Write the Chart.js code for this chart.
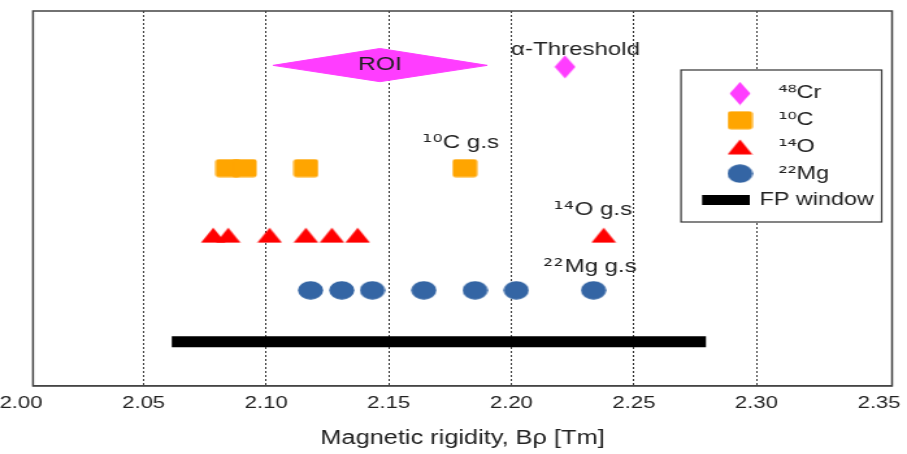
<!DOCTYPE html>
<html>
<head>
<meta charset="utf-8">
<script src="https://cdn.jsdelivr.net/npm/chart.js@4/dist/chart.umd.min.js"></script>
<style>
  @font-face { font-family: 'SupDigits'; src: local('DejaVu Sans'), local('DejaVuSans');
               unicode-range: U+00B2-00B3, U+00B9, U+2070-2079; }
  html, body { margin: 0; padding: 0; background: #fff; overflow: hidden; }
  #wrap { position: absolute; left: 0; top: 0; width: 698px; height: 454px;
          transform: scaleX(1.29943); transform-origin: 0 0; }
</style>
</head>
<body>
<div id="wrap"><canvas id="c"></canvas></div>
<script>
// ---------------- data ----------------
const xTickValues = [2.00, 2.05, 2.10, 2.15, 2.20, 2.25, 2.30, 2.35];
const seriesNames = ['⁴⁸Cr', '¹⁰C', '¹⁴O', '²²Mg', 'FP window'];
const cr48X = [2.2219];
const c10X = [2.0844, 2.0911, 2.1162, 2.1810];
const o14X = [2.0784, 2.0845, 2.1014, 2.1162, 2.1268, 2.1373, 2.2377];
const mg22X = [2.1181, 2.1308, 2.1433, 2.1643, 2.1852, 2.2020, 2.2335];
const fpWindowX = [2.0615, 2.2794];
const seriesRowY = [8.51, 5.81, 4.02, 2.55, 1.18];   // rows: Cr, C, O, Mg, FP window
const roiX = [2.1028, 2.1464, 2.1902, 2.1464, 2.1028];
const roiY = [8.55, 9.0, 8.55, 8.115, 8.55];
const noteTexts = ['ROI', 'α-Threshold', '¹⁰C g.s', '¹⁴O g.s', '²²Mg g.s'];
const noteX = [2.1464, 2.2262, 2.1793, 2.2333, 2.2322];
const noteY = [8.566, 8.96, 6.49, 4.69, 3.18];

// ---------------- styles ----------------
const FONT = "SupDigits, 'Liberation Sans', Arial, sans-serif";
const MAGENTA = '#ff3dff', ORANGE = '#ffa500', RED = '#ff0000', BLUE = '#3465a4';
Chart.defaults.font.family = FONT;
Chart.defaults.color = '#222';
const X_MIN = 2.00489, X_MAX = 2.35531;

function shape(w, h, draw) {
  const c = document.createElement('canvas');
  c.width = w; c.height = h;
  draw(c.getContext('2d'), w, h);
  return c;
}
const diamondImg = shape(17, 24, (g, w, h) => {
  g.fillStyle = MAGENTA; g.beginPath();
  g.moveTo(w / 2, 0.5); g.lineTo(w - 0.5, h / 2); g.lineTo(w / 2, h - 0.5); g.lineTo(0.5, h / 2);
  g.closePath(); g.fill();
});
const squareImg = shape(20, 19, (g, w, h) => {
  g.fillStyle = ORANGE; g.beginPath(); g.roundRect(0.5, 0.5, w - 1, h - 1, 2.5); g.fill();
});
const triImg = shape(20, 16, (g, w, h) => {
  g.fillStyle = RED; g.beginPath();
  g.moveTo(w / 2, 0.5); g.lineTo(w - 0.5, h - 0.5); g.lineTo(0.5, h - 0.5);
  g.closePath(); g.fill();
});
const circImg = shape(20, 19, (g, w, h) => {
  g.fillStyle = BLUE; g.beginPath();
  g.ellipse(w / 2, h / 2, w / 2 - 0.3, h / 2 - 0.3, 0, 0, Math.PI * 2); g.fill();
});
// legend swatch for the FP window: black bar, drawn a little left of the common symbol centre
const fpImg = shape(61, 10, (g, w, h) => { g.fillStyle = '#000'; g.fillRect(0, 0, 38, h); });

const toPts = (xs, y) => xs.map(x => ({ x, y }));

// ---------------- plugin: frame, legend box, annotations ----------------
const LEGEND_FRAME = { left: 524.1, top: 70, right: 678.5, bottom: 222 };
const decorPlugin = {
  id: 'decor',
  afterLayout(chart) {
    const lg = chart.legend;
    if (!lg) return;
    if (!lg._origDraw) { lg._origDraw = lg.draw; lg.draw = function () {}; }
    lg.left = 540.3; lg.top = 75.8;
    lg.right = 672.6; lg.bottom = LEGEND_FRAME.bottom + 20;
    lg.width = lg.right - lg.left; lg.height = lg.bottom - lg.top;
  },
  beforeDatasetsDraw(chart) {
    const ctx = chart.ctx, a = chart.chartArea;
    ctx.save();
    ctx.strokeStyle = '#444'; ctx.lineWidth = 1.5;
    ctx.strokeRect(a.left, a.top, a.right - a.left, a.bottom - a.top);
    const f = LEGEND_FRAME;
    ctx.fillStyle = '#fff';
    ctx.fillRect(f.left, f.top, f.right - f.left, f.bottom - f.top);
    ctx.strokeStyle = '#333'; ctx.lineWidth = 1.2;
    ctx.strokeRect(f.left, f.top, f.right - f.left, f.bottom - f.top);
    ctx.restore();
    if (chart.legend && chart.legend._origDraw) chart.legend._origDraw.call(chart.legend);
  },
  afterDatasetsDraw(chart) {
    const ctx = chart.ctx, xs = chart.scales.x, ys = chart.scales.y;
    ctx.save();
    ctx.fillStyle = '#222';
    ctx.textAlign = 'center';
    ctx.textBaseline = 'middle';
    noteTexts.forEach((t, i) => {
      ctx.font = (i === 0 ? '19px ' : '18.5px ') + FONT;
      ctx.fillText(t, xs.getPixelForValue(noteX[i]), ys.getPixelForValue(noteY[i]));
    });
    ctx.restore();
  }
};

const chart = new Chart(document.getElementById('c'), {
  type: 'scatter',
  data: {
    datasets: [
      { label: 'ROI', data: roiX.map((x, i) => ({ x, y: roiY[i] })), showLine: true, fill: 'shape',
        backgroundColor: MAGENTA, borderColor: MAGENTA, borderWidth: 1, pointRadius: 0, tension: 0 },
      { label: seriesNames[0], data: toPts(cr48X, seriesRowY[0]), pointStyle: diamondImg, pointRadius: 10 },
      { label: seriesNames[1], data: toPts(c10X, seriesRowY[1]), pointStyle: squareImg, pointRadius: 10 },
      { label: seriesNames[2], data: toPts(o14X, seriesRowY[2]), pointStyle: triImg, pointRadius: 10 },
      { label: seriesNames[3], data: toPts(mg22X, seriesRowY[3]), pointStyle: circImg, pointRadius: 10 },
      { label: seriesNames[4], data: toPts(fpWindowX, seriesRowY[4]), showLine: true,
        borderColor: '#000', backgroundColor: '#000', borderWidth: 11, borderCapStyle: 'butt',
        pointRadius: 0, pointHoverRadius: 0, pointStyle: fpImg }
    ]
  },
  options: {
    responsive: true,
    maintainAspectRatio: false,
    animation: false,
    events: [],
    layout: { padding: { left: 25.4, right: 11.5, top: 4, bottom: 3.3 } },
    scales: {
      x: {
        type: 'linear', position: 'bottom', bounds: 'data',
        min: X_MIN, max: X_MAX,
        afterBuildTicks: (s) => { s.ticks = xTickValues.map(v => ({ value: v })); },
        afterFit: (s) => { s.paddingLeft = 0; s.paddingRight = 0; },
        ticks: { autoSkip: false, maxRotation: 0, padding: 7, color: '#222', font: { size: 17 },
                 callback: (v) => Number(v).toFixed(2) },
        grid: {
          color: (c) => (c.index === 0 || c.index === xTickValues.length - 1) ? 'rgba(0,0,0,0)' : '#333',
          lineWidth: 1, drawTicks: false
        },
        border: { display: true, color: '#555', width: 1.5, dash: [2, 2] },
        title: { display: true, text: 'Magnetic rigidity, Bρ [Tm]', color: '#222',
                 font: { size: 19.5 }, padding: { top: 7, bottom: 0 } }
      },
      y: { display: false, min: 0, max: 10 }
    },
    plugins: {
      tooltip: { enabled: false },
      legend: {
        position: 'chartArea',
        align: 'start',
        labels: {
          usePointStyle: true, pointStyleWidth: 41, padding: 8.7,
          font: { size: 18 }, color: '#222',
          filter: (item) => item.datasetIndex > 0,
          generateLabels: (ch) => {
            const items = Chart.defaults.plugins.legend.labels.generateLabels(ch);
            items.forEach(it => { it.textAlign = (it.text === 'FP window') ? 'right' : 'left'; });
            return items;
          }
        }
      }
    }
  },
  plugins: [decorPlugin]
});

if (document.fonts && document.fonts.load) {
  document.fonts.load('18px SupDigits', '⁰¹²⁴⁸').then(() => chart.update()).catch(() => {});
}
</script>
</body>
</html>
